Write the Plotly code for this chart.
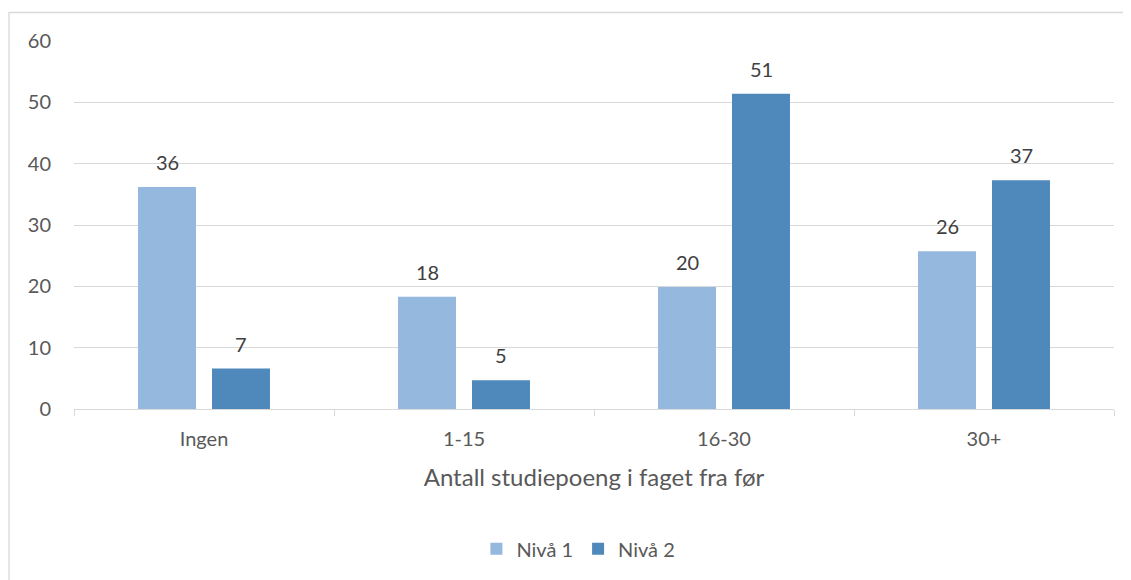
import plotly.graph_objects as go

categories = ["Ingen", "1-15", "16-30", "30+"]
niva1 = [36.2, 18.3, 19.9, 25.7]
niva2 = [6.6, 4.7, 51.4, 37.3]
series_names = ["Nivå 1", "Nivå 2"]
colors = ["#95B8DF", "#4F88BB"]

FONT = "Lato"
TXT = "#595959"

fig = go.Figure()
for name, vals, col in zip(series_names, [niva1, niva2], colors):
    fig.add_trace(go.Bar(
        name=name, x=categories, y=vals, marker_color=col,
        marker_line_width=0, cliponaxis=False,
    ))

# data labels as annotations, offset onto each bar of the group
for i, vals in enumerate([niva1, niva2]):
    shift = -37 if i == 0 else 37
    for c, v in zip(categories, vals):
        fig.add_annotation(
            x=c, y=v, text=f"{int(v + 0.5)}", showarrow=False,
            xshift=shift, yshift=11, yanchor="bottom",
            font=dict(family=FONT, size=20, color="#404040"),
        )

# outer frame
fig.add_shape(type="rect", xref="paper", yref="paper",
              x0=-0.0625, x1=1.03, y0=-0.5, y1=1.0774,
              line=dict(color="#D9D9D9", width=1.3), fillcolor="rgba(0,0,0,0)",
              layer="below")

fig.update_layout(
    width=1123, height=572,
    margin=dict(l=66, r=17, t=33, b=171),
    paper_bgcolor="white", plot_bgcolor="white",
    barmode="group", bargap=0.431, bargroupgap=0.216,
    font=dict(family=FONT, color=TXT, size=18),
    showlegend=True,
    legend=dict(orientation="h", x=0.485, xanchor="center", y=-0.38, yanchor="middle",
                font=dict(family=FONT, size=20, color=TXT), traceorder="normal"),
    xaxis=dict(
        type="category", tickson="boundaries", ticks="outside", ticklen=6,
        tickcolor="#D9D9D9", tickwidth=1.3,
        showline=True, linecolor="#D9D9D9", linewidth=1.3,
        tickfont=dict(family=FONT, size=20, color=TXT),
        ticklabelstandoff=12,
        showgrid=False,
        title=dict(text="Antall studiepoeng i faget fra før",
                   font=dict(family=FONT, size=24, color=TXT), standoff=20),
    ),
    yaxis=dict(
        range=[0, 60], dtick=10, tick0=0,
        showgrid=True, gridcolor="#D9D9D9", gridwidth=1.3,
        zeroline=False, showline=False, ticks="",
        tickfont=dict(family=FONT, size=20, color=TXT),
        ticklabelstandoff=22,
    ),
)

fig.write_html("out.html")
